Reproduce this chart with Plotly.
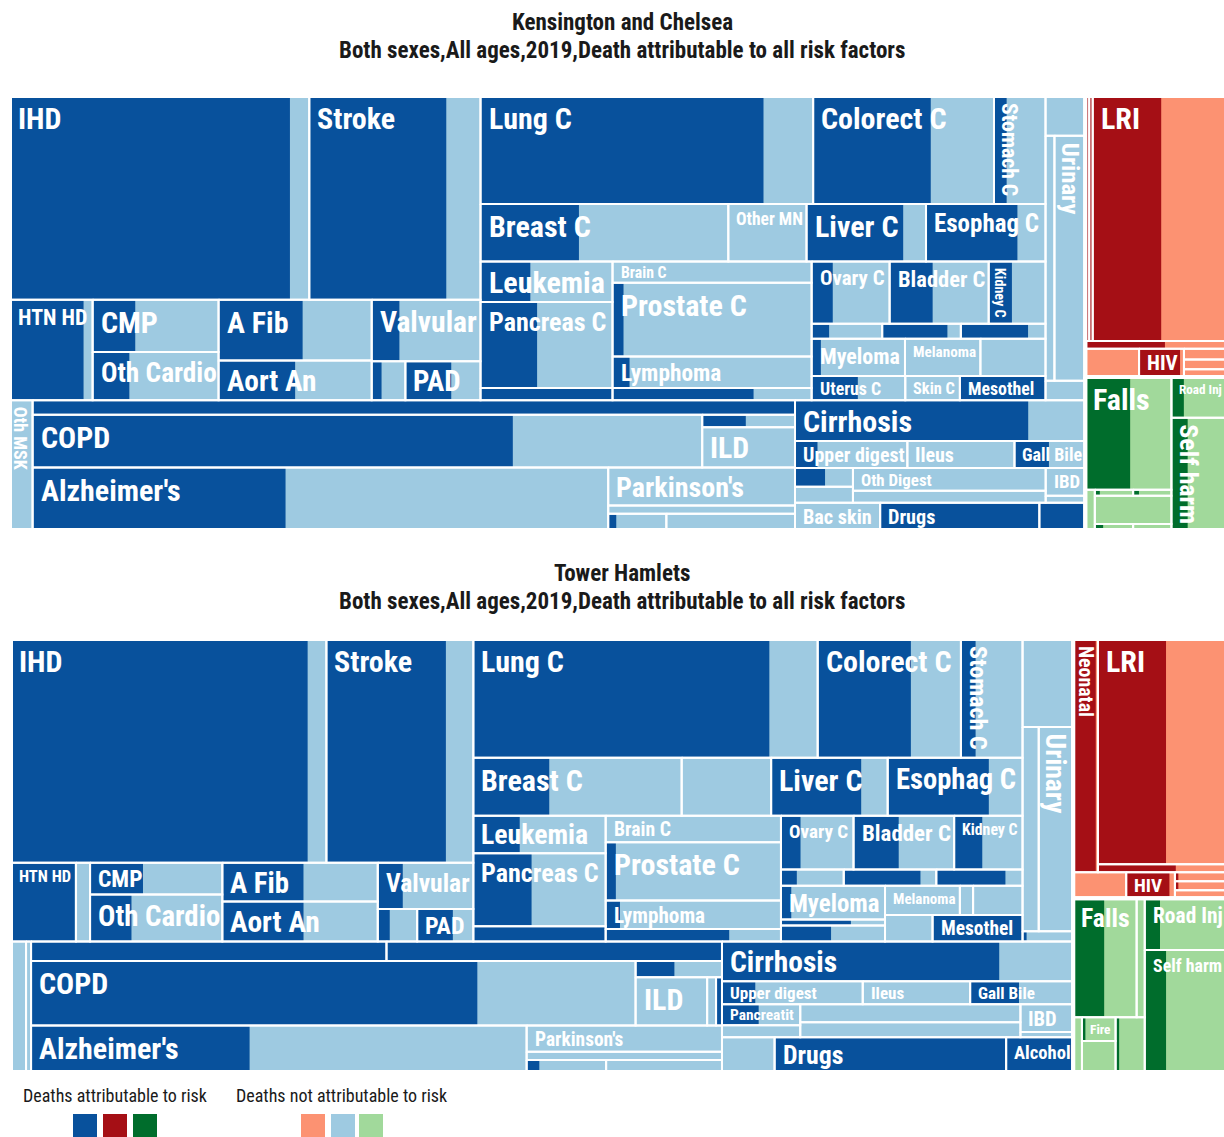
import plotly.graph_objects as go

# ====================== DATA ======================
# Kensington and Chelsea - causes listed in depth-first order of the layout tree ("" = unlabeled cell)
kc_causes = ["IHD", "Stroke", "HTN HD", "CMP", "Oth Cardio", "A Fib", "Aort An", "Valvular", "", "PAD",
             "Lung C", "Colorect C", "Stomach C", "Breast C", "Other MN", "Liver C", "Esophag C",
             "Leukemia", "Pancreas C", "", "Brain C", "Prostate C", "Lymphoma", "",
             "Ovary C", "Bladder C", "Kidney C", "", "", "", "Myeloma", "Melanoma", "", "Uterus C", "Skin C", "Mesothel",
             "", "", "Urinary", "",
             "Oth MSK", "", "COPD", "", "ILD", "Alzheimer's", "Parkinson's", "", "", "",
             "Cirrhosis", "Upper digest", "Ileus", "Gall Bile", "", "", "Oth Digest", "", "IBD", "", "Bac skin", "Drugs", "",
             "", "", "LRI", "", "", "HIV", "", "", "",
             "Falls", "", "", "", "", "", "", "Road Inj", "Self harm"]
# deaths attributable to risk (relative units)
kc_attrib = [564, 276, 73, 22, 17.5, 50.5, 30, 16.8, 3.8, 17.7,
             302, 125.5, 13.5, 56, 0, 55, 52,
             20, 48, 16, 0, 8, 5.3, 17,
             13, 26.5, 14.3, 2.6, 9.7, 10, 3.4, 0, 0, 11, 0, 20.4,
             0, 0, 0, 0,
             0, 110, 251, 5.4, 0, 156, 0, 0, 1.3, 0,
             94, 6, 0, 9.2, 5.6, 0, 0, 0, 0, 0, 0, 43, 12.4,
             9.6, 8.4, 166, 6, 0, 11.5, 0, 0, 0,
             50, 0, 0.3, 0.35, 0, 0.5, 0, 5, 18]
# deaths not attributable to risk (relative units)
kc_other = [39, 69, 9, 43, 42.5, 41.5, 30, 49.2, 9.2, 11.3,
            53, 67.5, 41.5, 85, 44.5, 13, 16,
            33, 64, 0, 42, 137, 56.7, 7,
            35, 34.5, 20.7, 7.9, 2, 2.6, 31, 27.8, 24, 11.3, 13, 0,
            15.6, 21.6, 74.7, 7.6,
            29, 0, 99, 6.1, 37, 199, 70, 15, 8.1, 20.8,
            23, 24, 28.6, 9.7, 5.2, 9.1, 43.5, 22.7, 10.9, 2.7, 23, 0, 0,
            0, 0, 157, 4.6, 15.1, 1.1, 4.5, 4, 3.3,
            46, 3.8, 2, 1.95, 21.3, 1.8, 2.3, 17, 42.5]
kc_group = ["N"] * 63 + ["C"] * 9 + ["I"] * 9

# Tower Hamlets
th_causes = ["IHD", "Stroke", "HTN HD", "", "CMP", "Oth Cardio", "A Fib", "Aort An", "Valvular", "", "PAD",
             "Lung C", "Colorect C", "Stomach C", "Breast C", "", "Liver C", "Esophag C",
             "Leukemia", "Pancreas C", "", "Brain C", "Prostate C", "Lymphoma", "",
             "Ovary C", "Bladder C", "Kidney C", "", "", "", "Myeloma", "", "", "Melanoma", "", "", "", "Mesothel",
             "", "", "Urinary", "",
             "", "", "", "", "COPD", "", "ILD", "", "", "Alzheimer's", "Parkinson's", "", "", "",
             "Cirrhosis", "Upper digest", "Ileus", "Gall Bile", "Pancreatit", "", "", "", "IBD", "", "", "Drugs", "Alcohol",
             "Neonatal", "LRI", "", "", "HIV", "", "", "",
             "Falls", "", "", "Fire", "", "", "Road Inj", "Self harm"]
th_attrib = [648, 261, 49, 0, 16.4, 19, 30.8, 31.6, 11.3, 3.8, 11.3,
             343, 108, 17, 43, 0, 51, 57.3,
             17, 41.5, 19.7, 0, 5.8, 4, 14.8,
             10.3, 23.8, 14.8, 2.5, 12.1, 10.9, 3.4, 4.1, 7.8, 0, 0, 0, 0, 23.1,
             0, 0, 0, 0.4,
             0, 0, 67.8, 64, 282, 6.2, 0, 0, 2.8, 99, 0, 0, 1.5, 0,
             108, 7.5, 0, 11, 7.5, 0, 0, 0, 0, 0, 0, 78.8, 22.8,
             51.5, 149.7, 6.2, 0, 11, 0.3, 0.3, 0,
             36, 0, 0, 0.8, 0, 1.9, 7.7, 25.4]
th_other = [41, 60, 1, 10.8, 24.6, 41.7, 28.2, 28.9, 31.9, 8.7, 6.5,
            56, 58, 54.4, 75, 50.7, 15, 19.1,
            31.5, 52.8, 0, 45.5, 94, 45, 6.2,
            27.9, 29.2, 21.2, 7.4, 2.5, 2.7, 30.9, 2, 8.4, 21.5, 3.8, 14.2, 12.2, 0,
            43.5, 32.3, 68.7, 4.6,
            19.2, 6.4, 0, 0, 100, 7.6, 33.8, 4.2, 0, 125.5, 50, 15.4, 7.9, 13.7,
            28.8, 24.2, 24.2, 12.2, 8.5, 9.1, 38.5, 32.1, 14.3, 2.6, 17.9, 0, 0,
            5, 131.9, 4, 13.5, 1.4, 4.2, 4.2, 4,
            37.7, 9.4, 4.7, 7, 10.2, 13.7, 33.3, 71.4]
th_group = ["N"] * 70 + ["C"] * 8 + ["I"] * 8

subtitle = "Both sexes,All ages,2019,Death attributable to all risk factors"
legend_labels = ["Deaths attributable to risk", "Deaths not attributable to risk"]


# ====================== LAYOUT TREES (structure only, leaves = causes in order) ======================
def H(*k):
    return ("h", list(k), False)


def V(*k):
    return ("v", list(k), False)


def G(n):
    return (n[0], n[1], True)


X = "x"

kc_tree = H(
    G(V(
        H(
            V(H(X, X),
              H(X, V(X, X), V(X, X), V(X, H(X, X)))),
            V(H(X, X, X),
              H(X, X, X, X),
              H(V(X, X, X),
                V(X, X, X, X),
                V(H(X, X, X), H(X, X, X), H(X, X, X), H(X, X, X)))),
            V(X, H(X, X), X)),
        H(
            X,
            V(X, H(X, V(X, X)), H(X, V(X, X, H(X, X)))),
            V(X, H(X, X, X), H(V(X, X), V(X, X), V(X, X)), H(X, X, X))))),
    V(
        G(V(H(X, X, X), X, H(X, X, V(X, X, X)))),
        G(H(V(X, H(X, V(H(X, X), X, H(X, X)))), V(X, X)))))

th_tree = H(
    G(V(
        H(
            V(H(X, X),
              H(X, X, V(X, X), V(X, X), V(X, H(X, X)))),
            V(H(X, X, X),
              H(X, X, X, X),
              H(V(X, X, X),
                V(X, X, X, X),
                V(H(X, X, X), H(X, X, X),
                  H(V(X, X, X), V(H(X, X, X), H(X, X)))))),
            V(X, H(X, X), X)),
        H(
            X, X,
            V(H(X, X), H(X, V(X, H(X, X, X))), H(X, V(X, X, H(X, X)))),
            V(X, H(X, X, X), H(V(X, X), V(X, X), V(X, X)), H(X, X, X))))),
    V(
        G(V(H(X, V(X, X)), H(X, X, V(X, X, X)))),
        G(H(V(H(X, X), H(X, V(X, X), X)), V(X, X)))))


def index_tree(node, counter):
    if node == X:
        i = counter[0]
        counter[0] += 1
        return ("leaf", i)
    d, kids, g = node
    return (d, [index_tree(k, counter) for k in kids], g)


def tsum(node, vals):
    if node[0] == "leaf":
        return vals[node[1]]
    return sum(tsum(k, vals) for k in node[1])


def place(node, box, vals, leaves, groups):
    x0, y0, x1, y1 = box
    if node[0] == "leaf":
        leaves[node[1]] = box
        return
    d, kids, g = node
    if g:
        groups.append(box)
    sums = [tsum(k, vals) for k in kids]
    tot = sum(sums)
    pos = x0 if d == "h" else y0
    for k, s in zip(kids, sums):
        if d == "h":
            w = (x1 - x0) * s / tot
            place(k, (pos, y0, pos + w, y1), vals, leaves, groups)
            pos += w
        else:
            h = (y1 - y0) * s / tot
            place(k, (x0, pos, x1, pos + h), vals, leaves, groups)
            pos += h


# ====================== STYLE ======================
W, HGT = 1224, 1137
FONT = "Roboto Condensed, Liberation Sans Narrow, DejaVu Sans Condensed, Roboto, sans-serif"
DARK = {"N": "#08519c", "C": "#a50f15", "I": "#006d2c"}
LIGHT = {"N": "#9ecae1", "C": "#fc9272", "I": "#a1d99b"}
CW = {"M": 0.78, "W": 0.8, "m": 0.78, "w": 0.66, "i": 0.22, "l": 0.22, "j": 0.22, "I": 0.27,
      "f": 0.3, "t": 0.3, "r": 0.31, " ": 0.22, "'": 0.15, ".": 0.22}


def em(s):
    w = 0
    for ch in s:
        if ch in CW:
            w += CW[ch]
        elif ch.isupper():
            w += 0.6
        else:
            w += 0.48
    return w


charts = [
    dict(title="Kensington and Chelsea", causes=kc_causes, att=kc_attrib, oth=kc_other, grp=kc_group,
         tree=kc_tree, frame=(10, 96, 1226, 530), ty=(22, 50)),
    dict(title="Tower Hamlets", causes=th_causes, att=th_attrib, oth=th_other, grp=th_group,
         tree=th_tree, frame=(11, 639, 1226, 1072), ty=(573, 601)),
]

fills = {c: ([], []) for c in list(LIGHT.values()) + list(DARK.values())}
outline = ([], [])
goutline = ([], [])
annotations = []


def add_rect(store, x0, y0, x1, y1):
    store[0].extend([x0, x1, x1, x0, x0, None])
    store[1].extend([y0, y0, y1, y1, y0, None])


for ch in charts:
    vals = [a + o for a, o in zip(ch["att"], ch["oth"])]
    tree = index_tree(ch["tree"], [0])
    leaves, groups = {}, []
    place(tree, ch["frame"], vals, leaves, groups)
    for i, (x0, y0, x1, y1) in leaves.items():
        a, o, g = ch["att"][i], ch["oth"][i], ch["grp"][i]
        if o > 0:
            add_rect(fills[LIGHT[g]], x0, y0, x1, y1)
        if a > 0:
            add_rect(fills[DARK[g]], x0, y0, x0 + (x1 - x0) * a / (a + o), y1)
        add_rect(outline, x0, y0, x1, y1)
        name = ch["causes"][i]
        if name:
            w, h = x1 - x0, y1 - y0
            e = em(name)
            fs_h = min(30, (w - 12) / e, 0.74 * h)
            fs_v = min(30, (h - 12) / e, 0.8 * w)
            if fs_h < 15 and fs_v > fs_h * 1.1:
                xc = x0 + min(w / 2, 0.62 * fs_v + 2)
                annotations.append(dict(x=xc, y=y0 + 5, xref="x", yref="y", text="<b>%s</b>" % name,
                                        showarrow=False, xanchor="center", yanchor="top", textangle=90,
                                        font=dict(family=FONT, size=fs_v, color="white")))
            else:
                yc = y0 + min(h / 2 + 0.5, 0.62 * fs_h + 4)
                annotations.append(dict(x=x0 + 6, y=yc, xref="x", yref="y", text="<b>%s</b>" % name,
                                        showarrow=False, xanchor="left", yanchor="middle",
                                        font=dict(family=FONT, size=fs_h, color="white")))
    for b in groups:
        add_rect(goutline, *b)
    annotations.append(dict(x=622, y=ch["ty"][0], xref="x", yref="y", text="<b>%s</b>" % ch["title"],
                            showarrow=False, xanchor="center", yanchor="middle",
                            font=dict(family=FONT, size=23, color="#1a1a1a")))
    annotations.append(dict(x=622, y=ch["ty"][1], xref="x", yref="y", text="<b>%s</b>" % subtitle,
                            showarrow=False, xanchor="center", yanchor="middle",
                            font=dict(family=FONT, size=23, color="#1a1a1a")))

fig = go.Figure()
for c in list(LIGHT.values()) + list(DARK.values()):
    xs, ys = fills[c]
    fig.add_trace(go.Scatter(x=xs, y=ys, mode="lines", fill="toself", fillcolor=c,
                             line=dict(width=0, color=c), hoverinfo="skip", showlegend=False))
fig.add_trace(go.Scatter(x=outline[0], y=outline[1], mode="lines", line=dict(width=2, color="white"),
                         hoverinfo="skip", showlegend=False))
fig.add_trace(go.Scatter(x=goutline[0], y=goutline[1], mode="lines", line=dict(width=4, color="white"),
                         hoverinfo="skip", showlegend=False))

# legend
annotations.append(dict(x=21, y=1095, xref="x", yref="y", text=legend_labels[0], showarrow=False,
                        xanchor="left", yanchor="middle", font=dict(family=FONT, size=18, color="#1a1a1a")))
annotations.append(dict(x=234, y=1095, xref="x", yref="y", text=legend_labels[1], showarrow=False,
                        xanchor="left", yanchor="middle", font=dict(family=FONT, size=18, color="#1a1a1a")))
shapes = []
for x0, c in zip([73, 103, 133], [DARK["N"], DARK["C"], DARK["I"]]):
    shapes.append(dict(type="rect", xref="x", yref="y", x0=x0, x1=x0 + 24, y0=1114, y1=1137,
                       fillcolor=c, line=dict(width=0)))
for x0, c in zip([301, 331, 359], [LIGHT["C"], LIGHT["N"], LIGHT["I"]]):
    shapes.append(dict(type="rect", xref="x", yref="y", x0=x0, x1=x0 + 24, y0=1114, y1=1137,
                       fillcolor=c, line=dict(width=0)))

fig.update_layout(width=W, height=HGT, margin=dict(l=0, r=0, t=0, b=0), autosize=False,
                  paper_bgcolor="white", plot_bgcolor="white", annotations=annotations, shapes=shapes,
                  font=dict(family=FONT))
fig.update_xaxes(range=[0, W], visible=False, fixedrange=True)
fig.update_yaxes(range=[HGT, 0], visible=False, fixedrange=True)
fig.write_html("out.html", config={"displayModeBar": False},
               post_script="document.body.style.margin='0px';")
